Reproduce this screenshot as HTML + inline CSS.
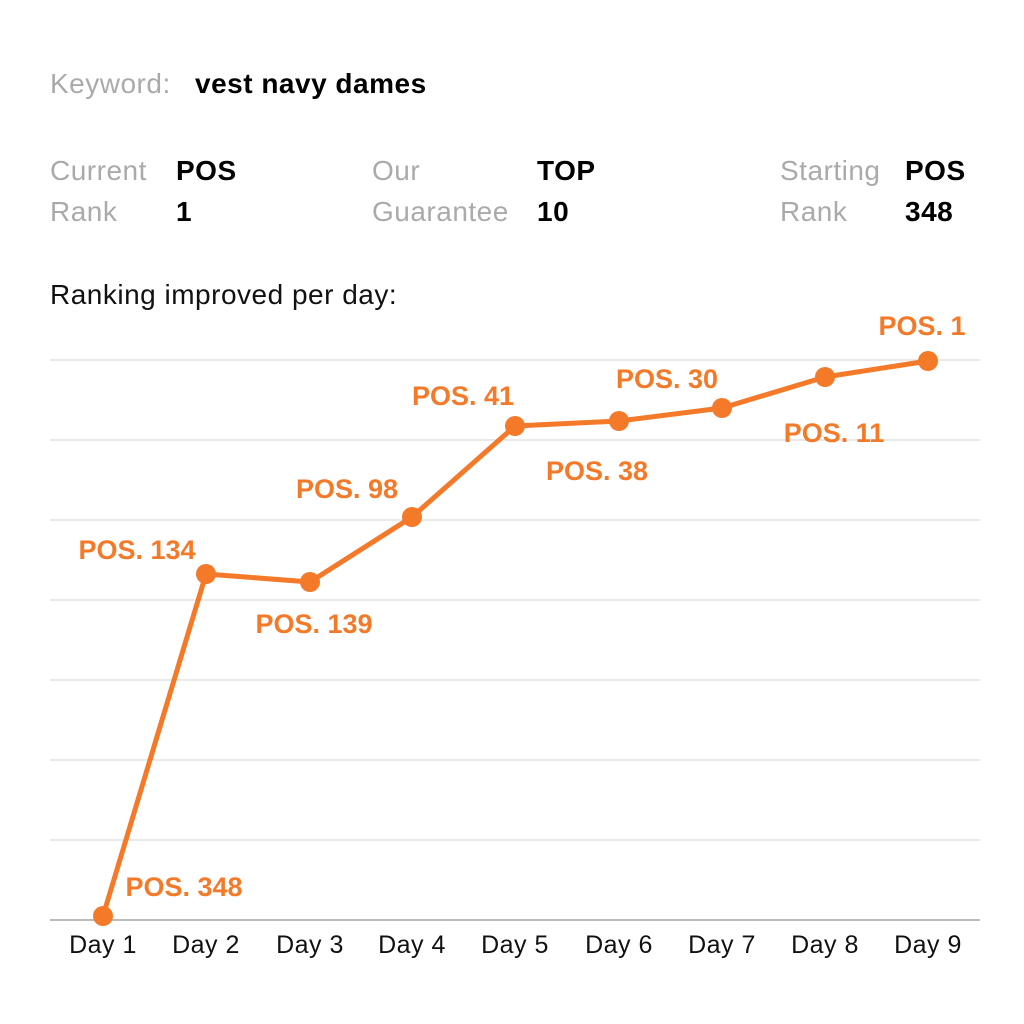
<!DOCTYPE html>
<html><head><meta charset="utf-8"><style>
body{margin:0;background:#fff;}
svg{display:block;font-family:"Liberation Sans",sans-serif;}
</style></head><body>
<svg width="1024" height="1024" viewBox="0 0 1024 1024">
<rect width="1024" height="1024" fill="#fff"/>
<g font-size="28" letter-spacing="0.5">
<text x="50" y="93" fill="#aaa">Keyword:</text>
<text x="195" y="93" fill="#000" font-weight="bold">vest navy dames</text>
<text x="50" y="180" fill="#aaa">Current</text>
<text x="50" y="221" fill="#aaa">Rank</text>
<text x="176" y="180" font-weight="bold">POS</text>
<text x="176" y="221" font-weight="bold">1</text>
<text x="372" y="180" fill="#aaa">Our</text>
<text x="372" y="221" fill="#aaa">Guarantee</text>
<text x="537" y="180" font-weight="bold">TOP</text>
<text x="537" y="221" font-weight="bold">10</text>
<text x="780" y="180" fill="#aaa">Starting</text>
<text x="780" y="221" fill="#aaa">Rank</text>
<text x="905" y="180" font-weight="bold">POS</text>
<text x="905" y="221" font-weight="bold">348</text>
<text x="50" y="304" fill="#111">Ranking improved per day:</text>
</g>
<g stroke="#e2e2e2" stroke-width="1.5">
<line x1="50" x2="980" y1="360" y2="360"/><line x1="50" x2="980" y1="440" y2="440"/>
<line x1="50" x2="980" y1="520" y2="520"/><line x1="50" x2="980" y1="600" y2="600"/>
<line x1="50" x2="980" y1="680" y2="680"/><line x1="50" x2="980" y1="760" y2="760"/>
<line x1="50" x2="980" y1="840" y2="840"/>
</g>
<line x1="50" x2="980" y1="920" y2="920" stroke="#bbb" stroke-width="2"/>
<g font-size="25" letter-spacing="0.5" fill="#111" text-anchor="middle">
<text x="103" y="953">Day 1</text><text x="206" y="953">Day 2</text><text x="310" y="953">Day 3</text>
<text x="412" y="953">Day 4</text><text x="515" y="953">Day 5</text><text x="619" y="953">Day 6</text>
<text x="722" y="953">Day 7</text><text x="825" y="953">Day 8</text><text x="928" y="953">Day 9</text>
</g>
<polyline points="103,916 206,574 310,582 412,517 515,426 619,421 722,408 825,377 928,361" fill="none" stroke="#f47a2a" stroke-width="5" stroke-linejoin="round"/>
<g fill="#f47a2a">
<circle cx="103" cy="916" r="10"/><circle cx="206" cy="574" r="10"/><circle cx="310" cy="582" r="10"/>
<circle cx="412" cy="517" r="10"/><circle cx="515" cy="426" r="10"/><circle cx="619" cy="421" r="10"/>
<circle cx="722" cy="408" r="10"/><circle cx="825" cy="377" r="10"/><circle cx="928" cy="361" r="10"/>
</g>
<g fill="#f47a2a" font-size="27" font-weight="bold" text-anchor="middle">
<text x="184" y="896">POS. 348</text>
<text x="137" y="559">POS. 134</text>
<text x="314" y="633">POS. 139</text>
<text x="347" y="498">POS. 98</text>
<text x="463" y="405">POS. 41</text>
<text x="597" y="480">POS. 38</text>
<text x="667" y="388">POS. 30</text>
<text x="834" y="442">POS. 11</text>
<text x="922" y="335">POS. 1</text>
</g>
</svg>
</body></html>
